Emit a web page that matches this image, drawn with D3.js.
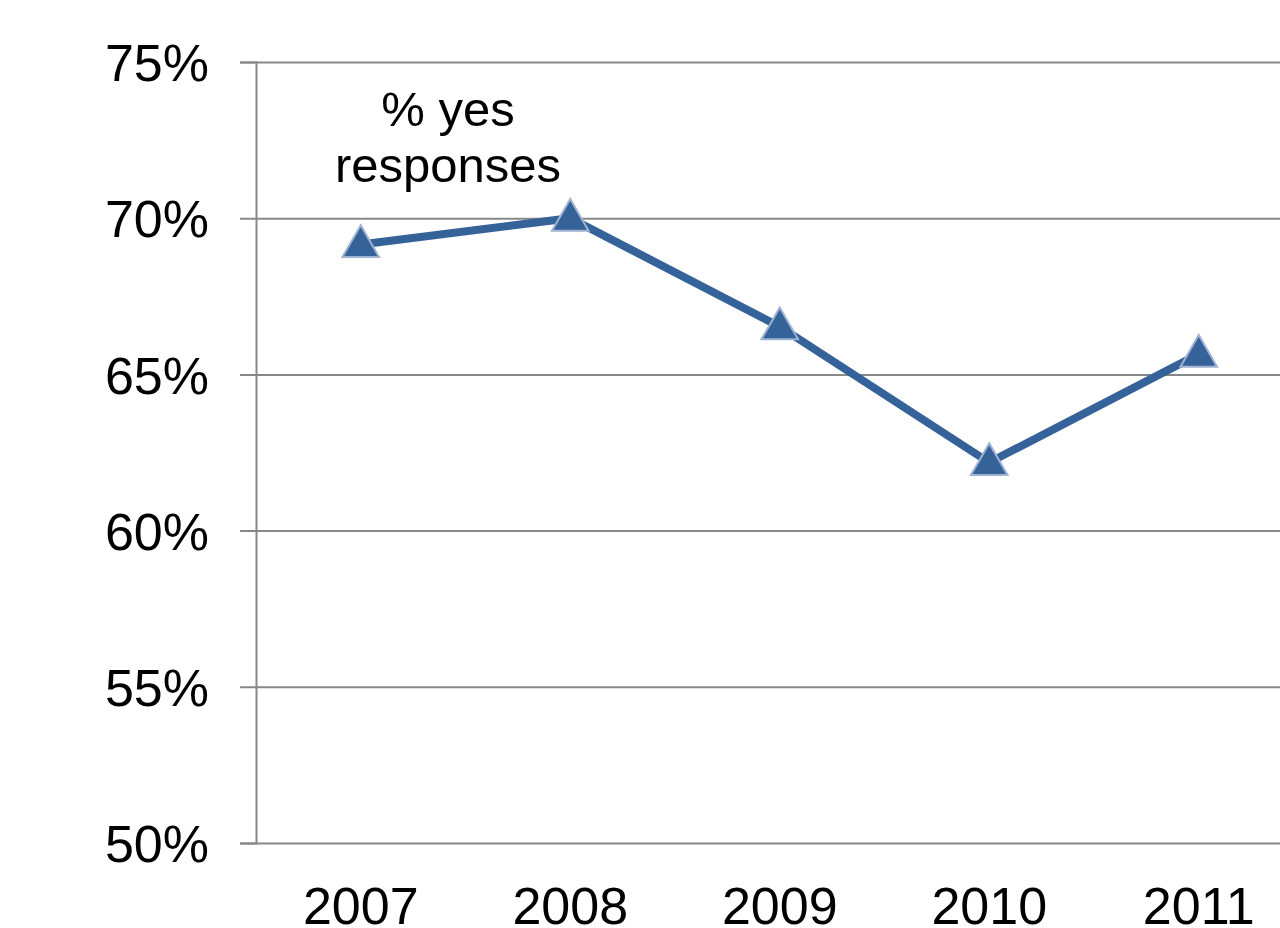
<!DOCTYPE html>
<html>
<head>
<meta charset="utf-8">
<script src="https://cdn.jsdelivr.net/npm/d3@7"></script>
<style>
  body { margin: 0; background: #fff; }
  svg { display: block; font-family: "Liberation Sans", Arial, sans-serif; }
</style>
</head>
<body>
<div id="chart"></div>
<script>
// chart data
const years = ["2007", "2008", "2009", "2010", "2011"];
const yesShare = [0.6916, 0.700, 0.6653, 0.6218, 0.6565];
const yTicks = [0.50, 0.55, 0.60, 0.65, 0.70, 0.75];
const labelLines = ["% yes", "responses"];

const width = 1280, height = 928;
const margin = { top: 62, right: -23.5, bottom: 85, left: 256 };

const svg = d3.select("#chart").append("svg")
    .attr("width", width)
    .attr("height", height);

// scales
const x = d3.scaleBand()
    .domain(years)
    .range([margin.left, width - margin.right])
    .padding(0);

const y = d3.scaleLinear()
    .domain([0.5, 0.75])
    .range([height - margin.bottom, margin.top]);

// y axis with gridlines
svg.append("g")
    .attr("transform", `translate(${margin.left},0)`)
    .call(d3.axisLeft(y).tickValues(yTicks).tickFormat(d3.format(".0%")).tickSize(16).tickPadding(31))
    .call(g => g.select(".domain").attr("stroke", "#888").attr("stroke-width", 2))
    .call(g => g.selectAll(".tick line").attr("stroke", "#888").attr("stroke-width", 2)
        .attr("x2", width - margin.left + 30).attr("x1", -16))
    .call(g => g.selectAll(".tick text")
        .attr("fill", "#000")
        .attr("dy", "0.36em")
        .style("font-size", "52px")
        .style("font-family", "Liberation Sans, Arial, sans-serif"));

// x axis
svg.append("g")
    .attr("transform", `translate(0,${y(0.5)})`)
    .call(d3.axisBottom(x).tickSize(0).tickPadding(44))
    .call(g => g.select(".domain").remove())
    .call(g => g.selectAll(".tick text")
        .attr("fill", "#000")
        .style("font-size", "52px")
        .style("font-family", "Liberation Sans, Arial, sans-serif"));

// line
const points = years.map((yr, i) => ({ year: yr, value: yesShare[i] }));
const line = d3.line()
    .x(d => x(d.year) + x.bandwidth() / 2)
    .y(d => y(d.value));

svg.append("path")
    .datum(points)
    .attr("fill", "none")
    .attr("stroke", "#36629a")
    .attr("stroke-width", 8)
    .attr("d", line);

// triangle markers
const tri = d3.symbol().type(d3.symbolTriangle).size(580);
svg.append("g")
    .selectAll("path")
    .data(points)
    .join("path")
    .attr("d", tri)
    .attr("transform", d => `translate(${x(d.year) + x.bandwidth() / 2},${y(d.value) + 2})`)
    .attr("fill", "#36629a")
    .attr("stroke", "#9fb3d3")
    .attr("stroke-width", 2);

// series label
svg.append("text")
    .attr("x", 448)
    .attr("y", 126)
    .attr("text-anchor", "middle")
    .style("font-size", "49px")
    .selectAll("tspan")
    .data(labelLines)
    .join("tspan")
    .attr("x", 448)
    .attr("dy", (d, i) => i === 0 ? 0 : 56)
    .text(d => d);
</script>
</body>
</html>
